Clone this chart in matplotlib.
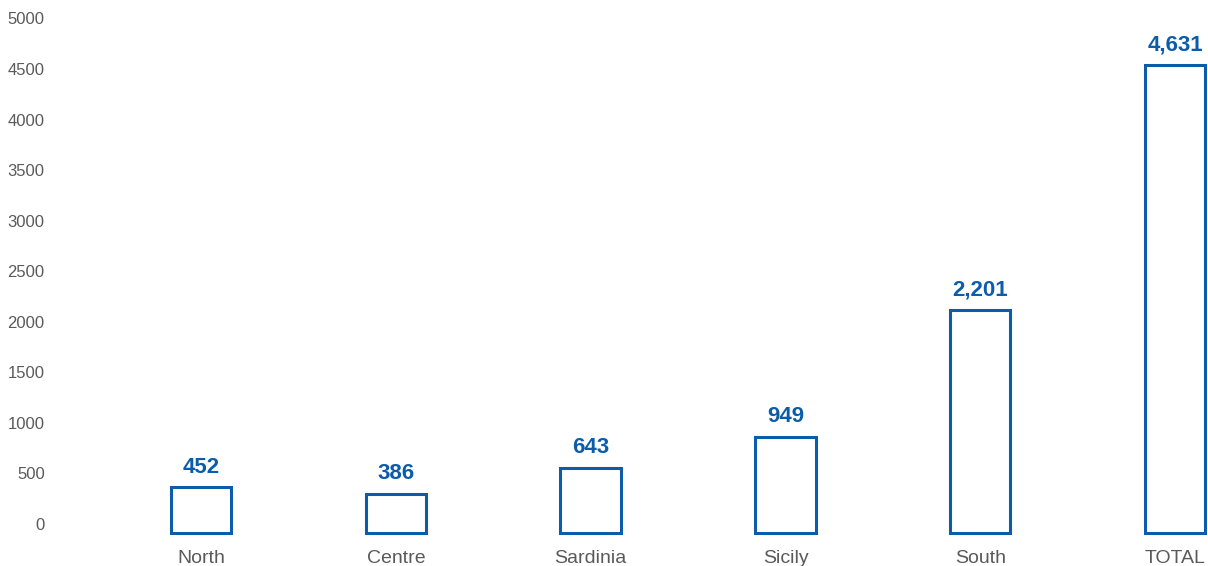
import matplotlib
matplotlib.use("Agg")
import matplotlib.pyplot as plt
from matplotlib.transforms import ScaledTranslation

plt.rcParams['font.family'] = ['Liberation Sans', 'DejaVu Sans']

categories = ["North", "Centre", "Sardinia", "Sicily", "South", "TOTAL"]
values = [452, 386, 643, 949, 2201, 4631]
yticks = [0, 500, 1000, 1500, 2000, 2500, 3000, 3500, 4000, 4500, 5000]

blue = "#0b5caa"
grey = "#5a5a5a"

W, H = 1208, 566
fig = plt.figure(figsize=(W / 100, H / 100), dpi=100)
ax = fig.add_axes([60 / W, (H - 533) / H, 1 - 60 / W, (533 - 27.5) / H])

x = list(range(len(categories)))
bars = ax.bar(x, values, width=0.31, facecolor="white", edgecolor=blue, linewidth=2.2)
for b in bars:
    b.set_clip_on(False)

for xi, v in zip(x, values):
    ax.annotate(f"{v:,}", (xi, v), xytext=(0, 7), textcoords="offset points",
                ha="center", va="bottom", fontsize=16, fontweight="bold", color=blue)

ax.set_ylim(0, 5000)
ax.set_xlim(-0.724, 5.169)
ax.set_yticks(yticks)
ax.set_yticklabels([str(t) for t in yticks])
ax.set_xticks(x)
ax.set_xticklabels(categories)

ax.tick_params(axis="y", length=0, pad=11, labelsize=12, labelcolor=grey)
ax.tick_params(axis="x", length=0, pad=12, labelsize=14, labelcolor=grey)
for lab in ax.get_yticklabels():
    lab.set_transform(lab.get_transform() + ScaledTranslation(0, 9 / 100, fig.dpi_scale_trans))

for s in ax.spines.values():
    s.set_visible(False)

fig.savefig("out.png", dpi=100)
